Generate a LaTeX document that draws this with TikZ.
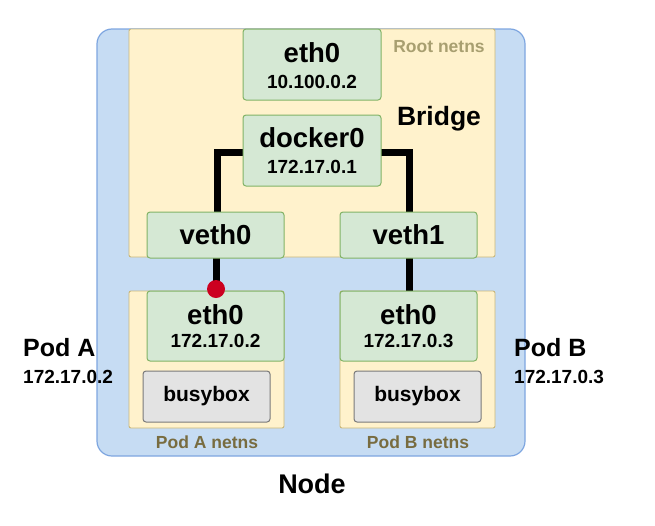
\documentclass[tikz,border=0pt]{standalone}
\usepackage{fontspec}
\setmainfont{Liberation Sans}
\usetikzlibrary{calc}
\definecolor{nodefill}{HTML}{C6DCF3}
\definecolor{nodeline}{HTML}{7EA6E0}
\definecolor{nsfill}{HTML}{FFF2CC}
\definecolor{nsline}{HTML}{C9B77A}
\definecolor{ifill}{HTML}{D5E8D4}
\definecolor{iline}{HTML}{82B366}
\definecolor{bfill}{HTML}{E3E3E3}
\definecolor{bline}{HTML}{7A7A7A}
\definecolor{rootcol}{HTML}{A89F70}
\definecolor{podcol}{HTML}{786C40}
\definecolor{dotred}{HTML}{CC0020}
\newcommand\fsz[1]{\fontsize{#1}{#1}\selectfont\bfseries}
\tikzset{
  box/.style args={#1/#2}{draw, rectangle, minimum width=#1, minimum height=#2, inner sep=0pt, outer sep=0pt},
  nodebox/.style={draw=nodeline, fill=nodefill, line width=1.2pt, rounded corners=15pt},
  nsbox/.style={draw=nsline, fill=nsfill, line width=0.9pt, rounded corners=2pt},
  ifbox/.style={draw=iline, fill=ifill, line width=1pt, rounded corners=3pt},
  bbox/.style={draw=bline, fill=bfill, line width=1pt, rounded corners=3pt},
  wire/.style={line width=7pt, line join=miter, line cap=butt},
  big/.style={font=\fsz{27.5}},
  ip/.style={font=\fsz{19}},
  nslabel/.style={font=\fsz{17.5}},
}
\begin{document}
\begin{tikzpicture}[x=1pt,y=-1pt]
\useasboundingbox (0,0) rectangle (655,525);
% Node
\draw[nodebox] (97,29) rectangle (525,456);
\node[font=\fsz{27}] (nodelbl) at (312,484) {Node};
% Root netns
\draw[nsbox] (129,29) rectangle (495,257);
\node[nslabel, text=rootcol] (rootlbl) at (439,47) {Root netns};
\node[font=\fsz{26.5}] (bridgelbl) at (439,119) {Bridge};
% pod netns
\draw[nsbox] (129,291) rectangle (284,428);
\draw[nsbox] (340,291) rectangle (495,428);
\node[nslabel, text=podcol] (podAns) at (207,442) {Pod A netns};
\node[nslabel, text=podcol] (podBns) at (418,442) {Pod B netns};
% wires
\draw[wire] (243,152) coordinate (dw) -| (217,212) coordinate (v0n);
\draw[wire] (381,152) coordinate (de) -| (409,212) coordinate (v1n);
\draw[wire] (216,258) coordinate (v0s) -- (216,289) coordinate (dotc);
\draw[wire] (409,258) coordinate (v1s) -- (409,291) coordinate (eBn);
% interfaces
\node[ifbox, box=138pt/71pt] (eth0r) at (312,64.5) {};
\node[big] (eth0rt) at (312,53) {eth0};
\node[ip] (eth0ri) at (312,82) {10.100.0.2};
\node[ifbox, box=138pt/71pt] (docker0) at (312,150.5) {};
\node[big] (dockt) at (312,138) {docker0};
\node[ip] (docki) at (312,167) {172.17.0.1};
\node[ifbox, box=137pt/46pt] (veth0) at (215.5,235) {};
\node[big] at (veth0.center) {veth0};
\node[ifbox, box=137pt/46pt] (veth1) at (408.5,235) {};
\node[big] at (veth1.center) {veth1};
\node[ifbox, box=137pt/70pt] (ethA) at (215.5,326) {};
\node[big] (ethAt) at (215.5,315) {eth0};
\node[ip] (ethAi) at (215.5,341) {172.17.0.2};
\node[ifbox, box=137pt/70pt] (ethB) at (408.5,326) {};
\node[big] (ethBt) at (408.5,315) {eth0};
\node[ip] (ethBi) at (408.5,341) {172.17.0.3};
% busybox
\node[bbox, box=127pt/51pt, font=\fsz{21}] (bbA) at (206.5,396.5) {busybox};
\node[bbox, box=127pt/51pt, font=\fsz{21}] (bbB) at (417.5,396.5) {busybox};
% red dot
\fill[dotred] (dotc) circle (9pt);
% pod labels
\node[font=\fsz{25}, anchor=west, inner sep=0pt] (podA) at (23,348) {Pod A};
\node[ip, anchor=west, inner sep=0pt] (podAip) at (23,377) {172.17.0.2};
\node[font=\fsz{25}, anchor=west, inner sep=0pt] (podB) at (514,348) {Pod B};
\node[ip, anchor=west, inner sep=0pt] (podBip) at (514,377) {172.17.0.3};
\end{tikzpicture}
\end{document}
